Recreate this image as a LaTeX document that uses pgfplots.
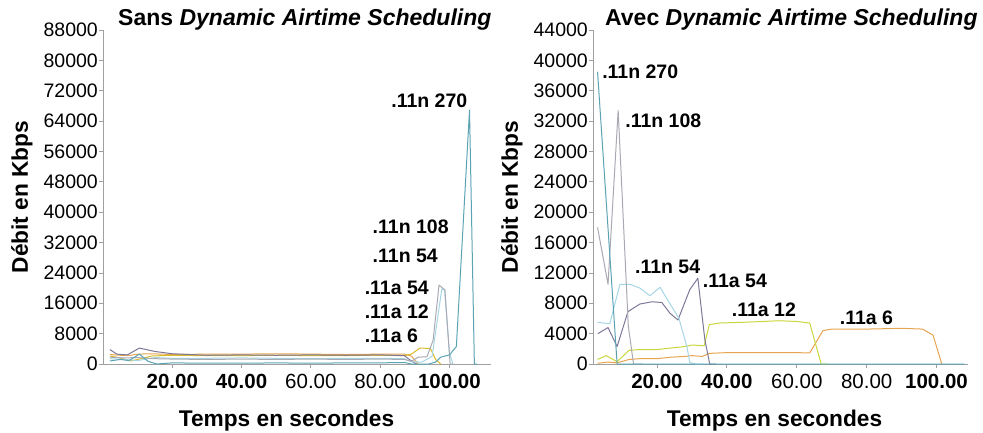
\documentclass[border=0pt]{standalone}
\usepackage{pgfplots}
\pgfplotsset{compat=1.18}
\usepackage{fontspec}
\setmainfont{Liberation Sans}

\definecolor{c270}{HTML}{5AA3B3}
\definecolor{c108}{HTML}{A9A9B4}
\definecolor{cn54}{HTML}{A6D6E4}
\definecolor{ca54}{HTML}{7E7898}
\definecolor{ca12}{HTML}{C9D63E}
\definecolor{ca6}{HTML}{E6A450}
\definecolor{axgray}{HTML}{A0A0A0}

\newcommand{\lblfont}{\fontsize{22.7}{26}\selectfont\bfseries}
\newcommand{\annfont}{\fontsize{19.5}{22}\selectfont\bfseries}

\pgfplotsset{
  debit/.style={
    scale only axis,
    anchor=south west,
    clip=false,
    axis x line*=bottom,
    axis y line*=left,
    axis line style={axgray, line width=0.8pt},
    tick style={axgray, line width=0.8pt},
    tick align=outside,
    major tick length=4pt,
    /pgf/number format/assume math mode=true,
    ymin=0,
    scaled y ticks=false,
    yticklabel style={font=\fontsize{19.5}{22}\selectfont, /pgf/number format/1000 sep={}, inner sep=1pt},
    xtick={20,40,60,80,100},
    xticklabels={\textbf{20.00},\textbf{40.00},60.00,80.00,\textbf{100.00}},
    xticklabel style={font=\fontsize{20.5}{22}\selectfont, inner sep=6pt},
    xlabel={Temps en secondes},
    ylabel={Débit en Kbps},
    label style={font=\lblfont},
    title style={font=\fontsize{23}{26}\selectfont\bfseries, anchor=base west, inner sep=0pt},
    every axis plot/.append style={line width=1pt, line join=round, no marks},
  }
}

\begin{document}
\begin{tikzpicture}
\path[use as bounding box] (0,0) rectangle (983pt,432pt);

% Sans DAS
\begin{axis}[debit,
  at={(103pt,68pt)}, width=388pt, height=334pt,
  xmin=0, xmax=112, ymax=88000,
  ytick={0,8000,...,88000},
  xlabel style={at={(axis description cs:0.473,-0.169)}, anchor=center},
  ylabel style={at={(axis description cs:-0.209,0.5)}, anchor=center},
  title={Sans \textit{Dynamic Airtime Scheduling}},
  title style={at={(axis description cs:0,1)}, xshift=15pt, yshift=-1pt},
]
\addplot[ca6] coordinates {(2,2500)(5,2300)(8,2300)(10,2600)(14,2700)(20,2500)(30,2600)(40,2600)(50,2700)(60,2600)(70,2500)(80,2600)(87,2600)(89,2100)(91,0)};
\addplot[ca12!70!orange] coordinates {(2,2100)(5,1600)(8,800)(11,1400)(14,2100)(20,2300)(30,2200)(40,2200)(50,2300)(60,2200)(70,2200)(80,2300)(87,2200)(89,2600)(91.5,4200)(94.5,4100)(96,1200)(97.5,0)};
\addplot[ca54] coordinates {(2,3800)(4,2600)(7,2400)(10.5,4200)(15,3300)(20,2700)(30,2300)(40,2400)(50,2300)(60,2400)(70,2300)(80,2400)(87,2200)(89,800)(90.5,0)};
\addplot[cn54] coordinates {(2,1400)(6,1200)(10,900)(15,1700)(20,1500)(30,1500)(40,1600)(50,1500)(60,1400)(70,1500)(80,1500)(87,1400)(89,600)(92,500)(95,2000)(97.8,19800)(98.6,19500)(100,3000)(101,0)};
\addplot[c108] coordinates {(2,1800)(6,1600)(10,1700)(15,1400)(20,1300)(30,1200)(40,1300)(50,1200)(60,1300)(70,1200)(80,1300)(87,1200)(89,700)(91,1800)(93.5,1900)(95.3,6300)(97,20800)(98.7,19500)(100.2,0)(101,0)};
\addplot[c270] coordinates {(2,800)(5,1200)(7.5,900)(10.5,2600)(13,700)(15.5,0)(20,300)(30,200)(40,200)(50,300)(60,200)(70,300)(80,300)(87,400)(89,0)(94,0)(96,500)(97.5,1800)(100,2400)(102,4600)(105.8,66900)(107.2,0)(108,0)};

\node[anchor=center, inner sep=0pt, font=\annfont] at (axis cs:94.2,69300) {.11n 270};
\node[anchor=west, inner sep=0pt, font=\annfont] at (axis cs:77.8,36100) {.11n 108};
\node[anchor=west, inner sep=0pt, font=\annfont] at (axis cs:77.8,28450) {.11n 54};
\node[anchor=west, inner sep=0pt, font=\annfont] at (axis cs:75.5,20000) {.11a 54};
\node[anchor=west, inner sep=0pt, font=\annfont] at (axis cs:75.5,13700) {.11a 12};
\node[anchor=west, inner sep=0pt, font=\annfont] at (axis cs:75.5,7380) {.11a 6};
\end{axis}

% Avec DAS
\begin{axis}[debit,
  at={(593pt,68pt)}, width=375pt, height=334pt,
  xmin=1.7, xmax=109, ymax=44000,
  ytick={0,4000,...,44000},
  xlabel style={at={(axis description cs:0.484,-0.169)}, anchor=center},
  ylabel style={at={(axis description cs:-0.216,0.5)}, anchor=center},
  title={Avec \textit{Dynamic Airtime Scheduling}},
  title style={at={(axis description cs:0,1)}, xshift=12pt, yshift=-1pt},
]
\addplot[ca6] coordinates {(3,100)(6,250)(8.6,150)(12,600)(15,700)(20,700)(24,900)(28,1000)(30,1100)(33,1000)(35,1400)(40,1500)(50,1500)(60,1500)(63.7,1450)(67.5,4400)(70,4600)(80,4600)(90,4700)(96,4600)(99,3800)(101.5,0)};
\addplot[ca12] coordinates {(3,600)(5.5,1100)(8.6,300)(12,1800)(15,1900)(20,1900)(24,2100)(28,2300)(30,2500)(33.5,2400)(35,5200)(38,5400)(45,5500)(55,5700)(60,5600)(63.7,5400)(67,0)(69,0)};
\addplot[ca54] coordinates {(3.1,4000)(6,4800)(8.6,2300)(11.7,6900)(15.1,7900)(18.6,8200)(21.4,8100)(23.7,6700)(26,5800)(29.4,9800)(31.7,11300)(33.7,3200)(35.1,0)(37,0)};
\addplot[cn54] coordinates {(3,5500)(6.5,5300)(9.4,10500)(12.3,10500)(15.1,10000)(18,9000)(20.9,10100)(23.1,8400)(26.3,6000)(28.6,2200)(29.4,200)(31,0)(33,0)};
\addplot[c108] coordinates {(3,18000)(6,10500)(8.9,33400)(11.8,5000)(13.3,0)(16,0)};
\addplot[c270] coordinates {(3,38500)(8.6,0)(12,0)(20,0)(40,0)(60,0)(80,0)(100,0)(108,0)};

\node[anchor=west, inner sep=0pt, font=\annfont] at (axis cs:4.3,38470) {.11n 270};
\node[anchor=west, inner sep=0pt, font=\annfont] at (axis cs:10.9,32010) {.11n 108};
\node[anchor=west, inner sep=0pt, font=\annfont] at (axis cs:13.7,12780) {.11n 54};
\node[anchor=west, inner sep=0pt, font=\annfont] at (axis cs:33.1,10930) {.11a 54};
\node[anchor=west, inner sep=0pt, font=\annfont] at (axis cs:41.4,7110) {.11a 12};
\node[anchor=west, inner sep=0pt, font=\annfont] at (axis cs:72.3,6060) {.11a 6};
\end{axis}
\end{tikzpicture}
\end{document}
